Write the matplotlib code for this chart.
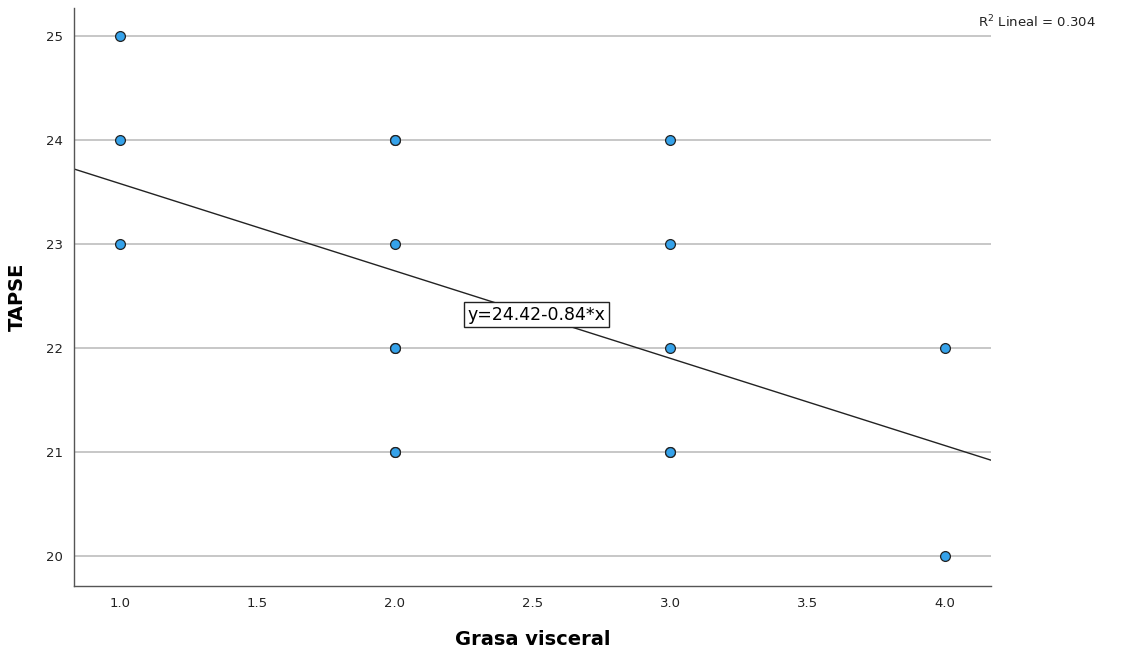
import matplotlib.pyplot as plt

# Grasa visceral vs TAPSE (repeated cases kept)
grasa = [1, 1, 1, 2, 2, 2, 2, 2, 2, 2, 3, 3, 3, 3, 3, 4, 4]
tapse = [25, 24, 23, 24, 24, 23, 22, 22, 21, 21, 24, 23, 22, 21, 21, 22, 20]

intercept = 24.42
slope = -0.84
r2 = 0.304

fig = plt.figure(figsize=(11.23, 6.54), dpi=100)
ax = fig.add_axes([0.0659, 0.104, 0.8166, 0.884])

xmin, xmax = 0.833, 4.167
ax.set_xlim(xmin, xmax)
ax.set_ylim(19.71, 25.27)

ax.set_yticks([20, 21, 22, 23, 24, 25])
ax.set_xticks([1.0, 1.5, 2.0, 2.5, 3.0, 3.5, 4.0])
ax.set_xticklabels(['1.0', '1.5', '2.0', '2.5', '3.0', '3.5', '4.0'])
ax.yaxis.grid(True, color='#bdbdbd', linewidth=1.2)
ax.set_axisbelow(True)

for s in ['top', 'right']:
    ax.spines[s].set_visible(False)
for s in ['left', 'bottom']:
    ax.spines[s].set_color('#555555')
    ax.spines[s].set_linewidth(1.0)
ax.tick_params(axis='both', length=0, labelsize=9.5, labelcolor='#222222')
ax.tick_params(axis='y', pad=8)
ax.tick_params(axis='x', pad=8)

# fitted line
ax.plot([xmin, xmax], [intercept + slope * xmin, intercept + slope * xmax],
        color='#222222', linewidth=1.0, zorder=2)

ax.scatter(grasa, tapse, s=50, color='#35a2ea', edgecolors='#222222',
           linewidths=0.9, zorder=3, clip_on=False)

ax.text(2.513, 22.32, 'y=24.42-0.84*x', fontsize=12.5, ha='center', va='center',
        bbox=dict(boxstyle='square,pad=0.2', facecolor='white', edgecolor='#222222', linewidth=1.0),
        zorder=4)

ax.set_xlabel('Grasa visceral', fontsize=14, fontweight='bold', labelpad=14)
ax.set_ylabel('TAPSE', fontsize=14, fontweight='bold', labelpad=14)

fig.text(0.871, 0.966, r'R$^2$ Lineal = %.3f' % r2, fontsize=9.5, ha='left', va='center',
         color='#222222')

fig.savefig('out.png', dpi=100)
